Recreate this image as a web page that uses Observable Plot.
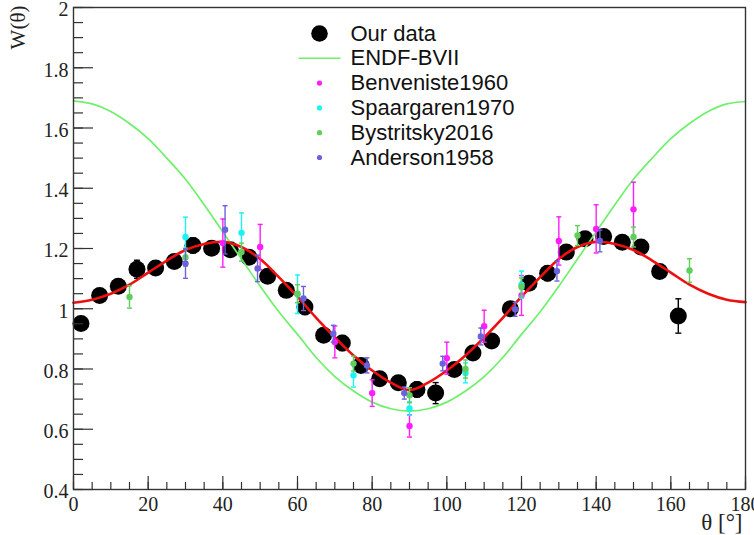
<!DOCTYPE html>
<html>
<head>
<meta charset="utf-8">
<script src="https://cdn.jsdelivr.net/npm/d3@7"></script>
<script src="https://cdn.jsdelivr.net/npm/@observablehq/plot@0.6"></script>
<style>
  html, body { margin: 0; padding: 0; background: #fff; }
</style>
</head>
<body>
<div id="chart"></div>
<script>
// ---- Our data (black) ----
const ourX = [2, 7, 12, 17, 22, 27, 32, 37, 42, 47, 52, 57, 62, 67, 72, 77, 82, 87, 92, 97, 102, 107, 112, 117, 122, 127, 132, 137, 142, 147, 152, 157, 162];
const ourY = [0.951, 1.044, 1.075, 1.131, 1.135, 1.157, 1.210, 1.201, 1.196, 1.171, 1.108, 1.061, 1.006, 0.912, 0.886, 0.812, 0.768, 0.754, 0.732, 0.720, 0.798, 0.853, 0.893, 1.000, 1.085, 1.118, 1.188, 1.232, 1.240, 1.221, 1.205, 1.124, 0.976];
const ourE = [0.02, 0.02, 0.02, 0.03, 0.02, 0.02, 0.025, 0.02, 0.02, 0.02, 0.02, 0.02, 0.025, 0.02, 0.025, 0.02, 0.02, 0.02, 0.025, 0.035, 0.02, 0.02, 0.02, 0.02, 0.02, 0.025, 0.02, 0.02, 0.02, 0.02, 0.02, 0.02, 0.057];

// ---- Fit (red) ----
const fitX = [0, 5, 10, 15, 20, 25, 30, 35, 40, 45, 50, 55, 60, 65, 70, 75, 80, 85, 90, 95, 100, 105, 110, 115, 120, 125, 130, 135, 140, 145, 150, 155, 160, 165, 170, 175, 180];
const fitY = [1.02, 1.03, 1.05, 1.08, 1.12, 1.16, 1.195, 1.215, 1.222, 1.205, 1.165, 1.105, 1.04, 0.97, 0.905, 0.845, 0.795, 0.755, 0.73, 0.755, 0.795, 0.845, 0.905, 0.97, 1.04, 1.105, 1.165, 1.205, 1.222, 1.215, 1.195, 1.16, 1.12, 1.08, 1.05, 1.03, 1.022];

// ---- ENDF-BVII (green line) ----
const endfX = [0, 5, 10, 15, 20, 25, 30, 35, 40, 45, 50, 55, 60, 65, 70, 75, 80, 85, 90, 95, 100, 105, 110, 115, 120, 125, 130, 135, 140, 145, 150, 155, 160, 165, 170, 175, 180];
const endfY = [1.69, 1.68, 1.655, 1.615, 1.565, 1.50, 1.43, 1.345, 1.255, 1.165, 1.075, 0.99, 0.915, 0.838, 0.775, 0.727, 0.69, 0.668, 0.66, 0.668, 0.69, 0.727, 0.775, 0.838, 0.915, 0.99, 1.075, 1.165, 1.255, 1.345, 1.43, 1.50, 1.565, 1.615, 1.655, 1.68, 1.688];

// ---- Benveniste1960 (magenta) ----
const benvX = [40, 50, 70, 80, 90, 100, 110, 120, 130, 140, 150];
const benvY = [1.218, 1.205, 0.89, 0.72, 0.611, 0.836, 0.942, 1.044, 1.225, 1.265, 1.33];
const benvE = [0.08, 0.075, 0.053, 0.044, 0.037, 0.053, 0.053, 0.066, 0.08, 0.08, 0.09];

// ---- Spaargaren1970 (cyan) ----
const spaaX = [30, 45, 60, 75, 90, 105, 120];
const spaaY = [1.238, 1.252, 1.048, 0.779, 0.669, 0.787, 1.08];
const spaaE = [0.066, 0.066, 0.064, 0.039, 0.022, 0.033, 0.045];

// ---- Bystritsky2016 (green) ----
const bystX = [15, 30, 45, 60, 75, 90, 105, 120, 135, 150, 165];
const bystY = [1.039, 1.171, 1.188, 1.05, 0.818, 0.713, 0.80, 1.072, 1.243, 1.238, 1.127];
const bystE = [0.037, 0.03, 0.03, 0.03, 0.025, 0.025, 0.03, 0.03, 0.033, 0.033, 0.039];

// ---- Anderson1958 (blue-violet) ----
const andeX = [30, 40.6, 49.3, 61.6, 69.6, 78.6, 88.6, 98.9, 109.1, 118.3, 129.5, 141];
const andeY = [1.15, 1.262, 1.134, 1.034, 0.917, 0.812, 0.72, 0.818, 0.908, 0.998, 1.125, 1.225];
const andeE = [0.049, 0.08, 0.044, 0.04, 0.028, 0.025, 0.02, 0.024, 0.028, 0.023, 0.033, 0.036];

// ---- Axis ticks ----
const xTicks = [0, 20, 40, 60, 80, 100, 120, 140, 160, 180];
const yTicks = [0.4, 0.6, 0.8, 1, 1.2, 1.4, 1.6, 1.8, 2];
const xMinor = d3.range(0, 181, 5);
const yMinor = d3.range(8, 41).map(k => k * 0.05);

// ---- Legend ----
const legendLabels = ["Our data", "ENDF-BVII", "Benveniste1960", "Spaargaren1970", "Bystritsky2016", "Anderson1958"];
const legendKinds = ["big", "line", "dot", "dot", "dot", "dot"];

const colMag = "#ff1cff", colCyan = "#1cf2f2", colGreen = "#5fce5a", colBlue = "#6a62dc", colEndf = "#6ef06a", colRed = "#ee1010";
const legendColors = ["#000", colEndf, colMag, colCyan, colGreen, colBlue];

const SANS = "Arial";
const SERIF = "Times New Roman";

const zip = (xs, ys, es) => xs.map((x, i) => ({x, y: ys[i], e: es ? es[i] : 0}));
const ours = zip(ourX, ourY, ourE);
const fit = zip(fitX, fitY);
const endf = zip(endfX, endfY);
const sets = [
  {data: zip(benvX, benvY, benvE), color: colMag},
  {data: zip(spaaX, spaaY, spaaE), color: colCyan},
  {data: zip(bystX, bystY, bystE), color: colGreen},
  {data: zip(andeX, andeY, andeE), color: colBlue}
];

const capSymbol = (hw) => ({ draw(ctx) { ctx.moveTo(-hw, 0); ctx.lineTo(hw, 0); } });
const lineSymbol = { draw(ctx) { ctx.moveTo(-21, 0); ctx.lineTo(21, 0); } };

function errMarks(data, color, sw, hw) {
  return [
    Plot.ruleX(data, {x: "x", y1: d => d.y - d.e, y2: d => d.y + d.e, stroke: color, strokeWidth: sw}),
    Plot.dot(data, {x: "x", y: d => d.y + d.e, symbol: capSymbol(hw), r: 3, stroke: color, fill: "none", strokeWidth: sw}),
    Plot.dot(data, {x: "x", y: d => d.y - d.e, symbol: capSymbol(hw), r: 3, stroke: color, fill: "none", strokeWidth: sw})
  ];
}

const legendMarks = legendLabels.flatMap((label, i) => {
  const dy = 26 + i * 24.8;
  const col = legendColors[i];
  const kind = legendKinds[i];
  const sym = kind === "big"
    ? Plot.dot([label], {frameAnchor: "top-left", dx: 246, dy, r: 8.3, fill: col, stroke: "none"})
    : kind === "line"
      ? Plot.dot([label], {frameAnchor: "top-left", dx: 246, dy, symbol: lineSymbol, r: 3, stroke: col, fill: "none", strokeWidth: 1.6})
      : Plot.dot([label], {frameAnchor: "top-left", dx: 246, dy, r: 2.6, fill: col, stroke: "none"});
  return [
    sym,
    Plot.text([label], {text: d => d, frameAnchor: "top-left", dx: 277, dy, textAnchor: "start", lineAnchor: "middle",
      fontFamily: SANS, fontSize: 22, fill: "#111"})
  ];
});

const chart = Plot.plot({
  width: 754,
  height: 535,
  marginLeft: 73,
  marginRight: 9,
  marginTop: 7,
  marginBottom: 46,
  style: {background: "#fff", color: "#222", fontFamily: SERIF, fontSize: "19px"},
  x: {domain: [0, 180], label: null},
  y: {domain: [0.4, 2], label: null},
  marks: [
    ...errMarks(ours, "#000", 1.4, 3),
    Plot.dot(ours, {x: "x", y: "y", r: 8.5, fill: "#000", stroke: "none"}),
    Plot.line(endf, {x: "x", y: "y", stroke: colEndf, strokeWidth: 1.7, curve: "catmull-rom"}),
    Plot.line(fit, {x: "x", y: "y", stroke: colRed, strokeWidth: 2.6, curve: "catmull-rom"}),
    ...sets.flatMap(s => [
      ...errMarks(s.data, s.color, 1.4, 2.5),
      Plot.dot(s.data, {x: "x", y: "y", r: 3.2, fill: s.color, stroke: "none"})
    ]),
    // x axis: minor + major ticks pointing inward, labels below
    Plot.axisX({ticks: xMinor, tickSize: -7, text: null, stroke: "#333", strokeWidth: 1.2}),
    Plot.axisX({ticks: xTicks, tickSize: -13, tickPadding: 20, tickFormat: d => String(d), stroke: "#333", strokeWidth: 1.2, fill: "#222", fontSize: 20, fontFamily: SERIF}),
    // y axis: ticks inward, labels separately nudged down slightly
    Plot.axisY({ticks: yMinor, tickSize: -10, text: null, stroke: "#333", strokeWidth: 1.2}),
    Plot.axisY({ticks: yTicks, tickSize: -20, text: null, stroke: "#333", strokeWidth: 1.2}),
    Plot.axisY({ticks: yTicks, tickSize: 0, tickPadding: 5, dy: 2.5, tickFormat: d => String(+d.toFixed(2)), fill: "#222", fontSize: 20, fontFamily: SERIF}),
    Plot.frame({stroke: "#333", strokeWidth: 1.4}),
    Plot.text(["W(θ)"], {text: d => d, frameAnchor: "top-left", dx: -55, dy: -2, rotate: -90, textAnchor: "end", lineAnchor: "middle", fontSize: 21, fill: "#222", fontFamily: SERIF}),
    Plot.text(["θ [°]"], {text: d => d, frameAnchor: "bottom-right", dx: -3, dy: 33, textAnchor: "end", lineAnchor: "middle", fontSize: 23, fill: "#222", fontFamily: SERIF}),
    ...legendMarks
  ]
});
document.getElementById("chart").appendChild(chart);
</script>
</body>
</html>
